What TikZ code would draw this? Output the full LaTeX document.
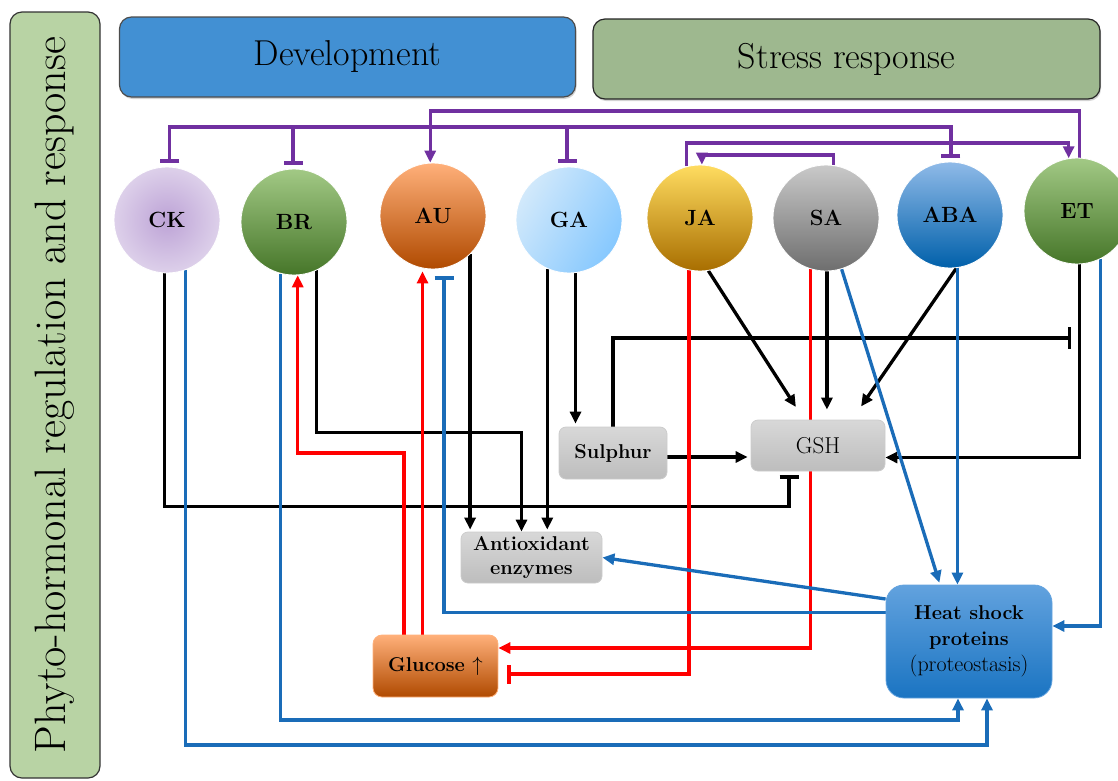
\documentclass[tikz,border=0pt]{standalone}
\usetikzlibrary{arrows.meta,backgrounds,calc,shadows}
\definecolor{purp}{HTML}{7030A0}
\definecolor{lblue}{HTML}{1A6CB8}
\definecolor{lred}{HTML}{FF0000}
\definecolor{sidegreen}{HTML}{B8D3A4}
\definecolor{devblue}{HTML}{4290D3}
\definecolor{strgreen}{HTML}{9EB88F}
\definecolor{boxtop}{HTML}{D8D8D8}
\definecolor{boxbot}{HTML}{BDBDBD}
\definecolor{ckin}{HTML}{BDA3D6}
\definecolor{ckout}{HTML}{DDD0EA}
\definecolor{grtop}{HTML}{A2C985}
\definecolor{grbot}{HTML}{467629}
\definecolor{autop}{HTML}{FFB07A}
\definecolor{aumid}{HTML}{F7883A}
\definecolor{aubot}{HTML}{B04A00}
\definecolor{gatop}{HTML}{D2E9FB}
\definecolor{gabot}{HTML}{86C8FE}
\definecolor{jatop}{HTML}{FFDC60}
\definecolor{jamid}{HTML}{FFC000}
\definecolor{jabot}{HTML}{A86E00}
\definecolor{satop}{HTML}{C9C9C9}
\definecolor{sabot}{HTML}{6E6E6E}
\definecolor{abatop}{HTML}{8FBAE8}
\definecolor{ababot}{HTML}{0060AA}
\definecolor{hsptop}{HTML}{62A2DE}
\definecolor{hspbot}{HTML}{1A74C2}
\begin{document}
\begin{tikzpicture}[x=1pt,y=-1pt,
  hormone/.style={circle,minimum size=106pt,inner sep=0pt,draw=white,line width=0.8pt,font=\fontsize{22}{24}\selectfont\bfseries},
  graybox/.style={rounded corners=7pt,draw=gray!40,line width=0.8pt,top color=boxtop,bottom color=boxbot,inner sep=0pt},
  wire/.style={line width=3.3pt},
  wp/.style={wire,draw=purp},
  wk/.style={wire,draw=black},
  wr/.style={wire,draw=lred},
  wb/.style={wire,draw=lblue},
  toarr/.style={-{Triangle[length=12pt,width=11pt]}},
  toinh/.style={-{Bar[width=19pt]}},
  banner/.style={rounded corners=12pt,line width=1.2pt,inner sep=0pt,font=\fontsize{36}{40}\selectfont,drop shadow={opacity=0.35,shadow xshift=1pt,shadow yshift=-2pt}},
]
\useasboundingbox (0,0) rectangle (1118,780);

% side panel and banners
\node[rounded corners=12pt,draw=black!80,line width=1.2pt,fill=sidegreen,rotate=90,
      minimum width=766pt,minimum height=90pt,inner sep=0pt,
      font=\fontsize{44}{48}\selectfont] (side) at (55,395) {Phyto-hormonal regulation and response};
\node[banner,draw=black!70,fill=devblue,minimum width=456pt,minimum height=80pt] (dev) at (347.5,57) {Development};
\node[banner,draw=black!85,fill=strgreen,minimum width=507pt,minimum height=80pt] (str) at (846.5,59) {Stress response};

% hormones
\node[hormone,inner color=ckin,outer color=ckout] (CK) at (167,220) {CK};
\node[hormone,top color=grtop,bottom color=grbot] (BR) at (294,222) {BR};
\node[hormone,top color=autop,middle color=aumid,bottom color=aubot] (AU) at (433,216) {AU};
\node[hormone,left color=gatop,right color=gabot,shading angle=60] (GA) at (569,220) {GA};
\node[hormone,top color=jatop,middle color=jamid,bottom color=jabot] (JA) at (700,218) {JA};
\node[hormone,top color=satop,bottom color=sabot] (SA) at (826,218) {SA};
\node[hormone,top color=abatop,bottom color=ababot] (ABA) at (950,215) {ABA};
\node[hormone,top color=grtop,bottom color=grbot] (ET) at (1077,211) {ET};

% boxes
\node[graybox,minimum width=108pt,minimum height=52pt,font=\fontsize{20}{22}\selectfont\bfseries] (Sul) at (613,453) {Sulphur};
\node[graybox,minimum width=134pt,minimum height=51pt,font=\fontsize{23}{26}\selectfont] (GSH) at (818,445.5) {GSH};
\node[graybox,minimum width=141pt,minimum height=51pt,align=center,font=\fontsize{20}{24}\selectfont\bfseries] (AO) at (531.5,557.5) {Antioxidant\\enzymes};
\node[rounded corners=9pt,draw=autop,line width=0.8pt,top color=autop,middle color=aumid,bottom color=aubot,
      minimum width=125pt,minimum height=62pt,inner sep=0pt,font=\fontsize{20}{22}\selectfont\bfseries] (Glu) at (435.5,666) {Glucose $\uparrow$};
\node[rounded corners=18pt,draw=hsptop,line width=0.8pt,top color=hsptop,bottom color=hspbot,
      minimum width=166pt,minimum height=113pt,inner sep=0pt,align=center,font=\fontsize{20}{26}\selectfont] (HSP) at (969,641.5)
      {\textbf{Heat shock}\\\textbf{proteins}\\{\fontsize{22}{26}\selectfont(proteostasis)}};

% levels
\coordinate (yP1) at (0,111);
\coordinate (yP2) at (0,127);
\coordinate (yP3) at (0,143);
\coordinate (yP4) at (0,155);
\coordinate (yS) at (0,338);
\coordinate (yBRk) at (0,432.5);
\coordinate (yBRr) at (0,453);
\coordinate (yCKk) at (0,506.7);
\coordinate (yBRb) at (0,720);
\coordinate (yCKb) at (0,745);

\begin{scope}[on background layer]
% purple
\draw[wp,toarr] (ET.87) -- (ET.87 |- yP1) -- (AU.93 |- yP1) -- (AU.93);
\draw[wp,{Bar[width=19pt]}-{Bar[width=19pt]},shorten <=4pt,shorten >=4pt] (CK.87) -- (CK.87 |- yP2) -- (ABA.89 |- yP2) -- (ABA.89);
\draw[wp,toinh,shorten >=4pt] (BR.91 |- yP2) -- (BR.91);
\draw[wp,toinh,shorten >=4pt] (GA.92 |- yP2) -- (GA.92);
\draw[wp,toarr] (JA.105) -- (JA.105 |- yP3) -- (ET.99 |- yP3) -- (ET.99);
\draw[wp,toarr] (SA.82) -- (SA.82 |- yP4) -- (JA.88 |- yP4) -- (JA.88);

% black
\draw[wk,toinh,shorten >=4pt] (CK.267) -- (CK.267 |- yCKk) -| ([xshift=-29pt]GSH.south);
\draw[wk,toarr] (BR.-65) -- (BR.-65 |- yBRk) -| ([xshift=-10pt]AO.north);
\draw[wk,toarr,shorten >=2pt] (AU.-46) -- (AU.-46 |- AO.north);
\draw[wk,toarr,shorten >=2pt] (GA.-114) -- (GA.-114 |- AO.north);
\draw[wk,toarr,shorten >=3pt] (GA.-83) -- (GA.-83 |- Sul.north);
\coordinate (ETk) at (ET.-87);
\coordinate (inhpt) at ($(ETk |- yS)+(-9,0)$);
\draw[wk,-{Bar[width=22pt]}] (Sul.north) -- (Sul.north |- yS) -- (inhpt);
\coordinate (s1) at ([yshift=-4pt]Sul.east);
\draw[wk,toarr,shorten >=3pt] (s1) -- (s1 -| GSH.west);
\draw[wk,toarr,shorten >=15pt] (JA.-81) -- ([xshift=-14pt]GSH.north);
\draw[wk,toarr,shorten >=10pt] (SA.-89) -- (SA.-89 |- GSH.north);
\draw[wk,toarr,shorten >=16pt] (ABA.-83.5) -- ([xshift=34pt]GSH.north);
\coordinate (g1) at ([yshift=-12pt]GSH.east);
\draw[wk,toarr] (ETk) |- (g1);

% red
\coordinate (gl1) at ([xshift=-31.5pt]Glu.north);
\draw[wr,toarr] (gl1) -- (gl1 |- yBRr) -| (BR.-86);
\coordinate (gl2) at ([xshift=-13pt]Glu.north);
\draw[wr,toarr,shorten >=3pt] (gl2) -- (gl2 |- AU.-101);
\coordinate (gr1) at ([yshift=18pt]Glu.east);
\draw[wr,toarr] (SA.-107.5) |- (gr1);
\coordinate (gr2) at ([yshift=-8pt]Glu.east);
\draw[wr,toinh,shorten >=9pt] (JA.-102) |- (gr2);

% blue
\coordinate (h1) at ([xshift=18pt]HSP.south);
\draw[wb,toarr] (CK.-70) -- (CK.-70 |- yCKb) -| (h1);
\coordinate (h2) at ([xshift=-11pt]HSP.south);
\draw[wb,toarr] (BR.-105) -- (BR.-105 |- yBRb) -| (h2);
\coordinate (h3) at ([yshift=29pt]HSP.west);
\draw[wb,toinh,shorten >=8pt] (h3) -| (AU.-78.5);
\coordinate (h4) at ([yshift=42.5pt]HSP.west);
\draw[wb,toarr] (h4) -- (AO.east);
\draw[wb,toarr,shorten >=2pt] (SA.-73) -- ([xshift=-29pt]HSP.north);
\draw[wb,toarr] (ABA.-82) -- (ABA.-82 |- HSP.north);
\coordinate (h5) at ([yshift=15.5pt]HSP.east);
\draw[wb,toarr] (ET.-64) |- (h5);
\end{scope}
\end{tikzpicture}
\end{document}
